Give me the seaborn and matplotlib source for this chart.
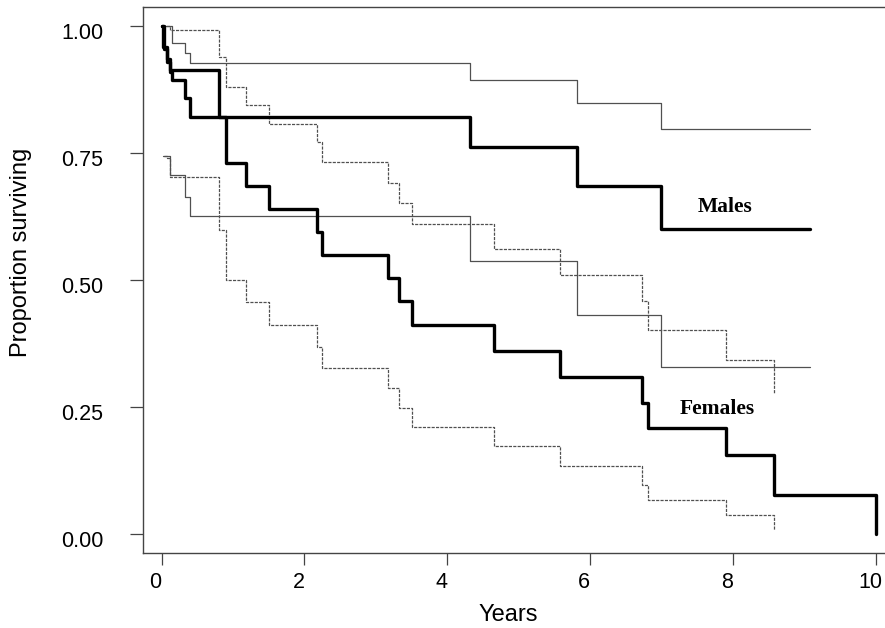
import numpy as np
import pandas as pd
import matplotlib
matplotlib.use("Agg")
import matplotlib.pyplot as plt
import matplotlib.transforms as mtransforms
import seaborn as sns

nan = np.nan

# Kaplan-Meier estimates (years, proportion surviving)
male_times = [0, 0.02, 0.07, 0.12, 0.14, 0.33, 0.40, 4.32, 5.82, 6.99, 9.08]
male_surv = [1.0, 0.96, 0.93, 0.91, 0.894, 0.859, 0.822, 0.763, 0.686, 0.602, 0.602]
male_upper = [1.0, 1.0, 1.0, 1.0, 0.967, 0.948, 0.928, 0.894, 0.850, 0.797, 0.797]
male_lower = [nan, 0.745, 0.745, 0.708, 0.708, 0.665, 0.626, 0.538, 0.431, 0.329, 0.329]

female_times = [0, 0.04, 0.08, 0.12, 0.81, 0.90, 1.18, 1.50, 2.17, 2.25,
                3.17, 3.33, 3.50, 4.65, 5.58, 6.73, 6.81, 7.90, 8.57, 10.0]
female_surv = [1.0, 0.955, 0.935, 0.914, 0.822, 0.731, 0.686, 0.641, 0.596, 0.55,
               0.504, 0.459, 0.412, 0.361, 0.310, 0.259, 0.209, 0.157, 0.078, 0.0]
female_upper = [1.0, 1.0, 1.0, 0.992, 0.94, 0.881, 0.845, 0.808, 0.773, 0.733,
                0.692, 0.653, 0.611, 0.562, 0.510, 0.459, 0.402, 0.344, 0.276, nan]
female_lower = [nan, 0.745, 0.74, 0.703, 0.60, 0.50, 0.457, 0.412, 0.369, 0.327,
                0.288, 0.248, 0.212, 0.173, 0.135, 0.097, 0.067, 0.039, 0.008, nan]

y_ticks = [0.0, 0.25, 0.5, 0.75, 1.0]
x_ticks = [0, 2, 4, 6, 8, 10]

sns.set_style("ticks")
plt.rcParams["font.family"] = ["Liberation Sans", "DejaVu Sans"]
plt.rcParams["text.color"] = "black"
plt.rcParams["axes.labelcolor"] = "black"
plt.rcParams["xtick.labelcolor"] = "black"
plt.rcParams["ytick.labelcolor"] = "black"

fig = plt.figure(figsize=(8.85, 6.28), dpi=100)
ax = fig.add_axes([0.1616, 0.1189, 0.8384, 0.8699])

thin = "#505050"
curves = [
    (male_times, male_upper, thin, 0.9, "-"),
    (male_times, male_lower, thin, 0.9, "-"),
    (female_times, female_upper, thin, 0.9, (0, (2.5, 1))),
    (female_times, female_lower, thin, 0.9, (0, (2.5, 1))),
    (male_times, male_surv, "black", 2.4, "-"),
    (female_times, female_surv, "black", 2.4, "-"),
]
for t, s, col, lw, ls in curves:
    df = pd.DataFrame({"years": t, "surv": s}).dropna()
    sns.lineplot(data=df, x="years", y="surv", ax=ax, drawstyle="steps-post",
                 color=col, linewidth=lw, linestyle=ls, sort=False,
                 estimator=None)

ax.text(7.89, 0.644, "Males", family="Liberation Serif", weight="bold",
        fontsize=15.5, ha="center", va="center", color="black")
ax.text(7.78, 0.247, "Females", family="Liberation Serif", weight="bold",
        fontsize=15.5, ha="center", va="center", color="black")

ax.set_xlim(-0.259, 10.126)
ax.set_ylim(-0.0374, 1.038)
ax.set_xticks(x_ticks)
ax.set_yticks(y_ticks)
ax.set_yticklabels([f"{v:.2f}" for v in y_ticks])
ax.tick_params(axis="y", length=9.4, width=0.9, pad=19.4, labelsize=15.5,
               color="#444444")
ax.tick_params(axis="x", length=8.6, width=0.9, pad=5, labelsize=15.5,
               color="#444444")

# tick labels sit a little off their ticks in the original
x_shift = mtransforms.ScaledTranslation(-6 / 100, 0, fig.dpi_scale_trans)
y_shift = mtransforms.ScaledTranslation(0, -5 / 100, fig.dpi_scale_trans)
for lab in ax.get_xticklabels():
    lab.set_transform(lab.get_transform() + x_shift)
for lab in ax.get_yticklabels():
    lab.set_transform(lab.get_transform() + y_shift)

ax.set_xlabel("Years", fontsize=17)
ax.set_ylabel("Proportion surviving", fontsize=17)
ax.xaxis.set_label_coords(0.4926, -0.1126)
ax.xaxis.label.set_va("center")
ax.yaxis.set_label_coords(-0.164, 0.551)
ax.yaxis.label.set_va("center")

for side in ["left", "bottom", "top"]:
    ax.spines[side].set_color("#444444")
    ax.spines[side].set_linewidth(1.0)
ax.spines["right"].set_visible(False)

fig.savefig("out.png", dpi=100)
